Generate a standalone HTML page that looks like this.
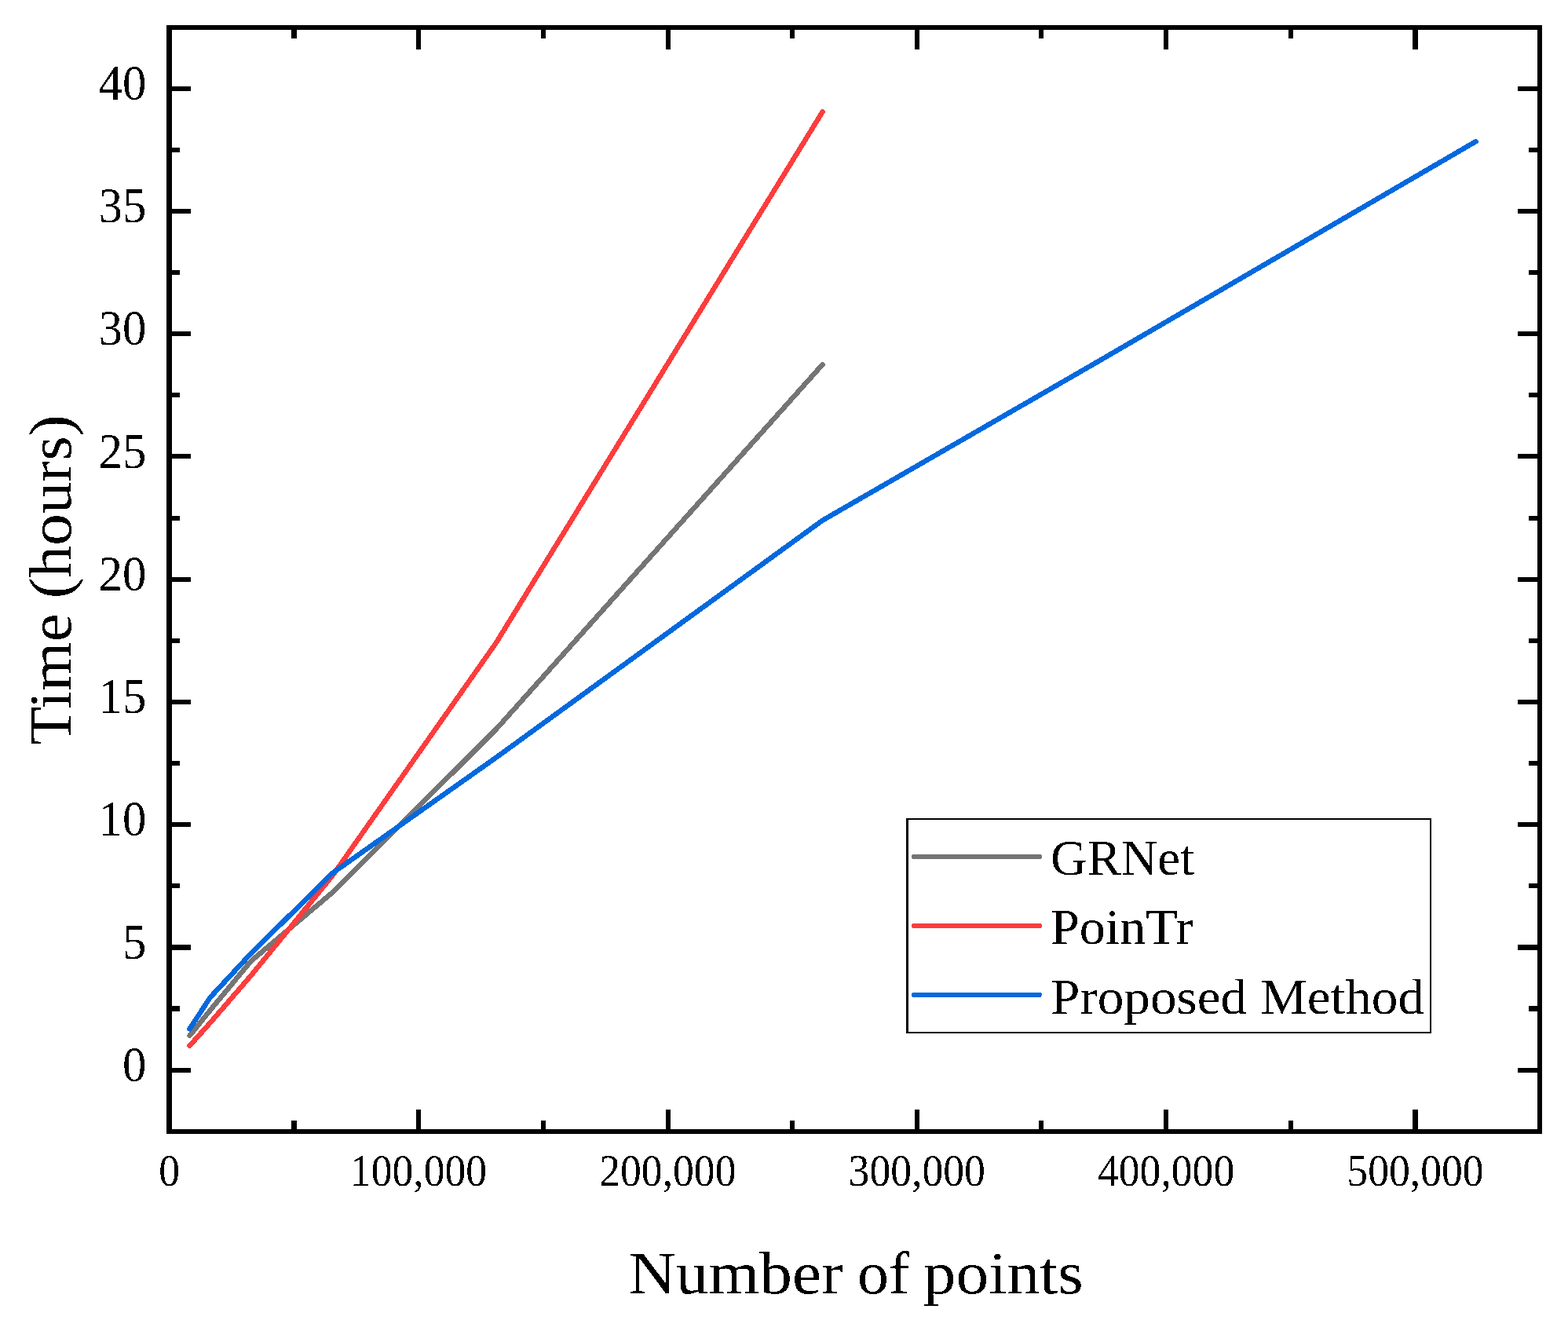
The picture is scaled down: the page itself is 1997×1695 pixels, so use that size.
<!DOCTYPE html>
<html lang="en">
<head>
<meta charset="utf-8">
<title>Time (hours) vs Number of points</title>
<style>
html,body{margin:0;padding:0;background:#ffffff;}
body{width:1997px;height:1695px;overflow:hidden;}
svg{display:block;}
text{font-kerning:normal;}
</style>
</head>
<body>
<svg width="1997" height="1695" viewBox="0 0 1997 1695">
<rect x="0" y="0" width="1997" height="1695" fill="#ffffff"/>
<defs><filter id="crisp" x="0" y="0" width="100%" height="100%" filterUnits="userSpaceOnUse" color-interpolation-filters="sRGB"><feComponentTransfer><feFuncA type="discrete" tableValues="0 1"/></feComponentTransfer></filter></defs>
<path d="M241.60 1318.90 L265.71 1289.03 Q267.60 1286.70 269.51 1284.39 L317.68 1226.31 Q319.60 1224.00 321.89 1222.07 L421.30 1138.33 Q423.59 1136.40 425.72 1134.28 L629.47 931.12 Q631.59 929.00 633.59 926.76 L1047.58 464.20" fill="none" stroke="#757575" stroke-width="6.50" stroke-linecap="round" stroke-linejoin="round" shape-rendering="crispEdges"/>
<path d="M241.60 1331.70 L265.60 1304.84 Q267.60 1302.60 269.56 1300.33 L317.64 1244.67 Q319.60 1242.40 321.49 1240.08 L421.70 1117.32 Q423.59 1115.00 425.32 1112.55 L629.86 821.45 Q631.59 819.00 633.16 816.44 L1047.58 142.40" fill="none" stroke="#fc3d3d" stroke-width="6.50" stroke-linecap="round" stroke-linejoin="round" shape-rendering="crispEdges"/>
<path d="M241.60 1310.20 L265.96 1272.81 Q267.60 1270.30 269.64 1268.10 L317.56 1216.50 Q319.60 1214.30 321.73 1212.19 L421.46 1113.91 Q423.59 1111.80 426.05 1110.07 L629.14 966.63 Q631.59 964.90 634.02 963.14 L1045.15 664.46 Q1047.58 662.70 1050.18 661.20 L1397.40 461.01 Q1400.00 459.52 1402.59 458.01 L1879.56 180.20" fill="none" stroke="#0469de" stroke-width="6.50" stroke-linecap="round" stroke-linejoin="round" shape-rendering="crispEdges"/>
<g fill="#000000" shape-rendering="crispEdges">
<rect x="212.35" y="31.65" width="6.50" height="1412.60"/>
<rect x="1957.75" y="31.65" width="6.50" height="1412.60"/>
<rect x="212.35" y="31.65" width="1751.90" height="6.50"/>
<rect x="212.35" y="1437.75" width="1751.90" height="6.50"/>
<rect x="215.60" y="1360.00" width="27.60" height="6.00"/>
<rect x="1933.40" y="1360.00" width="27.60" height="6.00"/>
<rect x="215.60" y="1281.00" width="13.80" height="7.00"/>
<rect x="1947.20" y="1281.00" width="13.80" height="7.00"/>
<rect x="215.60" y="1203.00" width="27.60" height="7.00"/>
<rect x="1933.40" y="1203.00" width="27.60" height="7.00"/>
<rect x="215.60" y="1125.00" width="13.80" height="6.00"/>
<rect x="1947.20" y="1125.00" width="13.80" height="6.00"/>
<rect x="215.60" y="1047.00" width="27.60" height="6.00"/>
<rect x="1933.40" y="1047.00" width="27.60" height="6.00"/>
<rect x="215.60" y="969.00" width="13.80" height="6.00"/>
<rect x="1947.20" y="969.00" width="13.80" height="6.00"/>
<rect x="215.60" y="891.00" width="27.60" height="6.00"/>
<rect x="1933.40" y="891.00" width="27.60" height="6.00"/>
<rect x="215.60" y="813.00" width="13.80" height="6.00"/>
<rect x="1947.20" y="813.00" width="13.80" height="6.00"/>
<rect x="215.60" y="735.00" width="27.60" height="6.00"/>
<rect x="1933.40" y="735.00" width="27.60" height="6.00"/>
<rect x="215.60" y="657.00" width="13.80" height="6.00"/>
<rect x="1947.20" y="657.00" width="13.80" height="6.00"/>
<rect x="215.60" y="578.00" width="27.60" height="6.00"/>
<rect x="1933.40" y="578.00" width="27.60" height="6.00"/>
<rect x="215.60" y="500.00" width="13.80" height="6.00"/>
<rect x="1947.20" y="500.00" width="13.80" height="6.00"/>
<rect x="215.60" y="422.00" width="27.60" height="6.00"/>
<rect x="1933.40" y="422.00" width="27.60" height="6.00"/>
<rect x="215.60" y="344.00" width="13.80" height="6.00"/>
<rect x="1947.20" y="344.00" width="13.80" height="6.00"/>
<rect x="215.60" y="266.00" width="27.60" height="6.00"/>
<rect x="1933.40" y="266.00" width="27.60" height="6.00"/>
<rect x="215.60" y="188.00" width="13.80" height="6.00"/>
<rect x="1947.20" y="188.00" width="13.80" height="6.00"/>
<rect x="215.60" y="110.00" width="27.60" height="6.00"/>
<rect x="1933.40" y="110.00" width="27.60" height="6.00"/>
<rect x="371.00" y="1427.20" width="7.00" height="13.80"/>
<rect x="371.00" y="34.90" width="7.00" height="13.80"/>
<rect x="530.00" y="1413.40" width="6.00" height="27.60"/>
<rect x="530.00" y="34.90" width="6.00" height="27.60"/>
<rect x="689.00" y="1427.20" width="6.00" height="13.80"/>
<rect x="689.00" y="34.90" width="6.00" height="13.80"/>
<rect x="848.00" y="1413.40" width="6.00" height="27.60"/>
<rect x="848.00" y="34.90" width="6.00" height="27.60"/>
<rect x="1006.00" y="1427.20" width="6.00" height="13.80"/>
<rect x="1006.00" y="34.90" width="6.00" height="13.80"/>
<rect x="1165.00" y="1413.40" width="6.00" height="27.60"/>
<rect x="1165.00" y="34.90" width="6.00" height="27.60"/>
<rect x="1323.00" y="1427.20" width="6.00" height="13.80"/>
<rect x="1323.00" y="34.90" width="6.00" height="13.80"/>
<rect x="1482.00" y="1413.40" width="6.00" height="27.60"/>
<rect x="1482.00" y="34.90" width="6.00" height="27.60"/>
<rect x="1641.00" y="1427.20" width="6.00" height="13.80"/>
<rect x="1641.00" y="34.90" width="6.00" height="13.80"/>
<rect x="1799.00" y="1413.40" width="7.00" height="27.60"/>
<rect x="1799.00" y="34.90" width="7.00" height="27.60"/>
</g>
<g filter="url(#crisp)">
<text transform="translate(186.40 1376.78) scale(0.9530 1)" font-size="63.90" text-anchor="end" font-family="'Liberation Serif', serif" fill="#000000" stroke="#000000" stroke-width="0.00">0</text>
<text transform="translate(186.40 1220.53) scale(0.9530 1)" font-size="63.90" text-anchor="end" font-family="'Liberation Serif', serif" fill="#000000" stroke="#000000" stroke-width="0.00">5</text>
<text transform="translate(186.40 1064.28) scale(0.9530 1)" font-size="63.90" text-anchor="end" font-family="'Liberation Serif', serif" fill="#000000" stroke="#000000" stroke-width="0.00">10</text>
<text transform="translate(186.40 908.03) scale(0.9530 1)" font-size="63.90" text-anchor="end" font-family="'Liberation Serif', serif" fill="#000000" stroke="#000000" stroke-width="0.00">15</text>
<text transform="translate(186.40 751.78) scale(0.9530 1)" font-size="63.90" text-anchor="end" font-family="'Liberation Serif', serif" fill="#000000" stroke="#000000" stroke-width="0.00">20</text>
<text transform="translate(186.40 595.53) scale(0.9530 1)" font-size="63.90" text-anchor="end" font-family="'Liberation Serif', serif" fill="#000000" stroke="#000000" stroke-width="0.00">25</text>
<text transform="translate(186.40 439.28) scale(0.9530 1)" font-size="63.90" text-anchor="end" font-family="'Liberation Serif', serif" fill="#000000" stroke="#000000" stroke-width="0.00">30</text>
<text transform="translate(186.40 283.03) scale(0.9530 1)" font-size="63.90" text-anchor="end" font-family="'Liberation Serif', serif" fill="#000000" stroke="#000000" stroke-width="0.00">35</text>
<text transform="translate(186.40 126.78) scale(0.9530 1)" font-size="63.90" text-anchor="end" font-family="'Liberation Serif', serif" fill="#000000" stroke="#000000" stroke-width="0.00">40</text>
<text transform="translate(215.60 1510.20) scale(0.9360 1)" font-size="57.30" text-anchor="middle" font-family="'Liberation Serif', serif" fill="#000000" stroke="#000000" stroke-width="0.00">0</text>
<text transform="translate(532.98 1510.20) scale(0.9360 1)" font-size="57.30" text-anchor="middle" font-family="'Liberation Serif', serif" fill="#000000" stroke="#000000" stroke-width="0.00">100,000</text>
<text transform="translate(850.35 1510.20) scale(0.9360 1)" font-size="57.30" text-anchor="middle" font-family="'Liberation Serif', serif" fill="#000000" stroke="#000000" stroke-width="0.00">200,000</text>
<text transform="translate(1167.72 1510.20) scale(0.9360 1)" font-size="57.30" text-anchor="middle" font-family="'Liberation Serif', serif" fill="#000000" stroke="#000000" stroke-width="0.00">300,000</text>
<text transform="translate(1485.10 1510.20) scale(0.9360 1)" font-size="57.30" text-anchor="middle" font-family="'Liberation Serif', serif" fill="#000000" stroke="#000000" stroke-width="0.00">400,000</text>
<text transform="translate(1802.47 1510.20) scale(0.9360 1)" font-size="57.30" text-anchor="middle" font-family="'Liberation Serif', serif" fill="#000000" stroke="#000000" stroke-width="0.00">500,000</text>
<text transform="translate(800.60 1647.30) scale(1.0830 1)" font-size="77.00" text-anchor="start" font-family="'Liberation Serif', serif" fill="#000000" stroke="#000000" stroke-width="0.00">Number</text>
<text transform="translate(1091.90 1647.30) scale(1.0375 1)" font-size="77.00" text-anchor="start" font-family="'Liberation Serif', serif" fill="#000000" stroke="#000000" stroke-width="0.00">of</text>
<text transform="translate(1175.75 1647.30) scale(1.0840 1)" font-size="77.00" text-anchor="start" font-family="'Liberation Serif', serif" fill="#000000" stroke="#000000" stroke-width="0.00">points</text>
<text transform="translate(90.20 949.00) rotate(-90) scale(1.0480 1)" font-size="77.00" text-anchor="start" font-family="'Liberation Serif', serif" fill="#000000" stroke="#000000" stroke-width="0.00">Time</text>
<text transform="translate(90.20 762.40) rotate(-90) scale(1.0533 1)" font-size="77.00" text-anchor="start" font-family="'Liberation Serif', serif" fill="#000000" stroke="#000000" stroke-width="0.00">(hours)</text>
</g>
<g fill="#000000" shape-rendering="crispEdges">
<rect x="1154" y="1042" width="3" height="274"/>
<rect x="1821" y="1042" width="2" height="274"/>
<rect x="1154" y="1042" width="669" height="2"/>
<rect x="1154" y="1314" width="669" height="2"/>
</g>
<line x1="1164.2" y1="1091.0" x2="1323.6" y2="1091.0" stroke="#757575" stroke-width="6.5" stroke-linecap="round" shape-rendering="crispEdges"/>
<line x1="1164.2" y1="1179.0" x2="1323.6" y2="1179.0" stroke="#fc3d3d" stroke-width="6.5" stroke-linecap="round" shape-rendering="crispEdges"/>
<line x1="1164.2" y1="1266.8" x2="1323.6" y2="1266.8" stroke="#0469de" stroke-width="6.5" stroke-linecap="round" shape-rendering="crispEdges"/>
<g filter="url(#crisp)">
<text transform="translate(1338.00 1114.10) scale(1.0335 1)" font-size="62.50" text-anchor="start" font-family="'Liberation Serif', serif" fill="#000000" stroke="#000000" stroke-width="0.00">GRNet</text>
<text transform="translate(1338.00 1202.10) scale(1.0584 1)" font-size="62.50" text-anchor="start" font-family="'Liberation Serif', serif" fill="#000000" stroke="#000000" stroke-width="0.00">PoinTr</text>
<text transform="translate(1338.00 1290.70) scale(1.0757 1)" font-size="62.50" text-anchor="start" font-family="'Liberation Serif', serif" fill="#000000" stroke="#000000" stroke-width="0.00">Proposed Method</text>
</g>
</svg>
</body>
</html>
